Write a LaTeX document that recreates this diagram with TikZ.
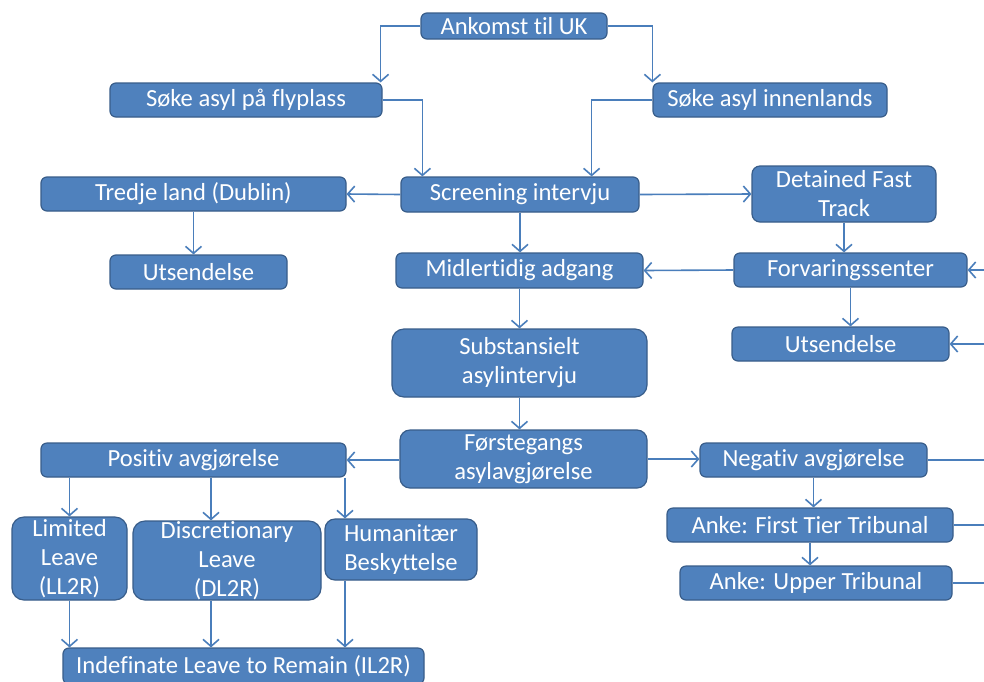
\documentclass[tikz,border=0pt]{standalone}
\usepackage{fontspec}
\setmainfont{Carlito}[Ligatures=CommonOff]
\usetikzlibrary{arrows.meta}
\definecolor{boxblue}{HTML}{4F81BD}
\definecolor{boxline}{HTML}{385D8A}
\definecolor{arrblue}{HTML}{4A7EBB}
\begin{document}
\begin{tikzpicture}[x=0.5pt,y=-0.5pt,box/.style={draw=boxline,fill=boxblue,line width=0.6pt,rounded corners=3pt,align=center,text=white,font=\fontsize{12.3}{14.5}\selectfont,inner sep=0pt},arr/.style={-{Straight Barb[length=3.5pt,width=8pt]},draw=arrblue,line width=0.8pt},ln/.style={draw=arrblue,line width=0.8pt}]
\clip (0,0) rectangle (984,681);
\fill[white] (0,0) rectangle (984,681);
\node[box,minimum width=93pt,minimum height=13pt] (ank) at (514,26) {Ankomst til UK};
\node[box,minimum width=136pt,minimum height=17pt] (fly) at (246,100) {Søke asyl på flyplass};
\node[box,minimum width=117pt,minimum height=17pt] (inn) at (770,100) {Søke asyl innenlands};
\node[box,minimum width=152.5pt,minimum height=17pt] (tredje) at (193.5,194) {Tredje land (Dublin)};
\node[box,minimum width=119pt,minimum height=17.5pt] (screen) at (520,194.5) {Screening intervju};
\node[box,minimum width=92pt,minimum height=28pt,rounded corners=4pt] (dft) at (844,194) {Detained Fast\\Track};
\node[box,minimum width=88.5pt,minimum height=17pt] (uts1) at (198.5,272) {Utsendelse};
\node[box,minimum width=123.5pt,minimum height=17.5pt] (midl) at (519.5,270.5) {Midlertidig adgang};
\node[box,minimum width=116.5pt,minimum height=17pt] (forv) at (850.5,270) {Forvaringssenter};
\node[box,minimum width=108.5pt,minimum height=17pt] (uts2) at (840.5,344) {Utsendelse};
\node[box,minimum width=127.5pt,minimum height=34pt,rounded corners=6pt] (subst) at (519.5,363) {Substansielt\\asylintervju};
\node[box,minimum width=123.5pt,minimum height=29pt,rounded corners=5pt] (forst) at (523.5,459) {Førstegangs\\asylavgjørelse};
\node[box,minimum width=152.5pt,minimum height=17pt] (pos) at (193.5,460) {Positiv avgjørelse};
\node[box,minimum width=113.5pt,minimum height=17pt] (neg) at (813.5,460) {Negativ avgjørelse};
\node[box,minimum width=143pt,minimum height=17pt] (ftt) at (810,525) {Anke: First Tier Tribunal};
\node[box,minimum width=136pt,minimum height=17pt] (upper) at (816,583) {Anke: Upper Tribunal};
\node[box,minimum width=57.5pt,minimum height=41.5pt,rounded corners=6pt] (ll) at (69.5,558.5) {Limited\\Leave\\(LL2R)};
\node[box,minimum width=94pt,minimum height=39.5pt,rounded corners=6pt] (dl) at (227,560.5) {Discretionary\\Leave\\(DL2R)};
\node[box,minimum width=76pt,minimum height=30.5pt,rounded corners=5pt] (hum) at (401,549.5) {Humanitær\\Beskyttelse};
\node[box,minimum width=180.5pt,minimum height=18pt] (il) at (243.5,666) {Indefinate Leave to Remain (IL2R)};
% right edge ends
\coordinate (e1) at (990,270);
\coordinate (e2) at (990,344);
\coordinate (e3) at (990,460);
\coordinate (e4) at (990,525);
\coordinate (e5) at (990,583);
\coordinate (dlin) at ([xshift=-8pt]dl.north);
\coordinate (humin) at ([xshift=-28pt]hum.north);
% connectors
\draw[arr] (ank.west) -| ([xshift=-1pt]fly.north east);
\draw[arr] (ank.east) -| (inn.north west);
\draw[arr] (fly.east) -| ([xshift=11pt]screen.north west);
\draw[arr] (inn.west) -| ([xshift=-24pt]screen.north east);
\draw[arr] (screen.west) -- (tredje.east);
\draw[arr] (screen.east) -- (dft.west);
\draw[arr] (tredje.south) -- (tredje.south |- uts1.north);
\draw[arr] (screen.south) -- (screen.south |- midl.north);
\draw[arr] (dft.south) -- (dft.south |- forv.north);
\draw[arr] (forv.west) -- (midl.east);
\draw[arr] (forv.south) -- (forv.south |- uts2.north);
\draw[arr] (e1) -- (forv.east);
\draw[arr] (e2) -- (uts2.east);
\draw[arr] (midl.south) -- (midl.south |- subst.north);
\draw[arr] (subst.south) -- (subst.south |- forst.north);
\draw[arr] (forst.west |- pos.east) -- (pos.east);
\draw[arr] (forst.east) -- (forst.east -| neg.west);
\draw[ln] (neg.east) -- (e3);
\draw[arr] (neg.south) -- (neg.south |- ftt.north);
\draw[ln] (ftt.east) -- (e4);
\draw[arr] (ftt.south) -- (ftt.south |- upper.north);
\draw[ln] (upper.east) -- (e5);
\draw[arr] (pos.south -| ll.north) -- (ll.north);
\draw[arr] (pos.south -| dlin) -- (dlin);
\draw[arr] (pos.south -| humin) -- (humin);
\draw[arr] (ll.south) -- (ll.south |- il.north);
\draw[arr] (dlin |- dl.south) -- (dlin |- il.north);
\draw[arr] (humin |- hum.south) -- (humin |- il.north);
\end{tikzpicture}
\end{document}
